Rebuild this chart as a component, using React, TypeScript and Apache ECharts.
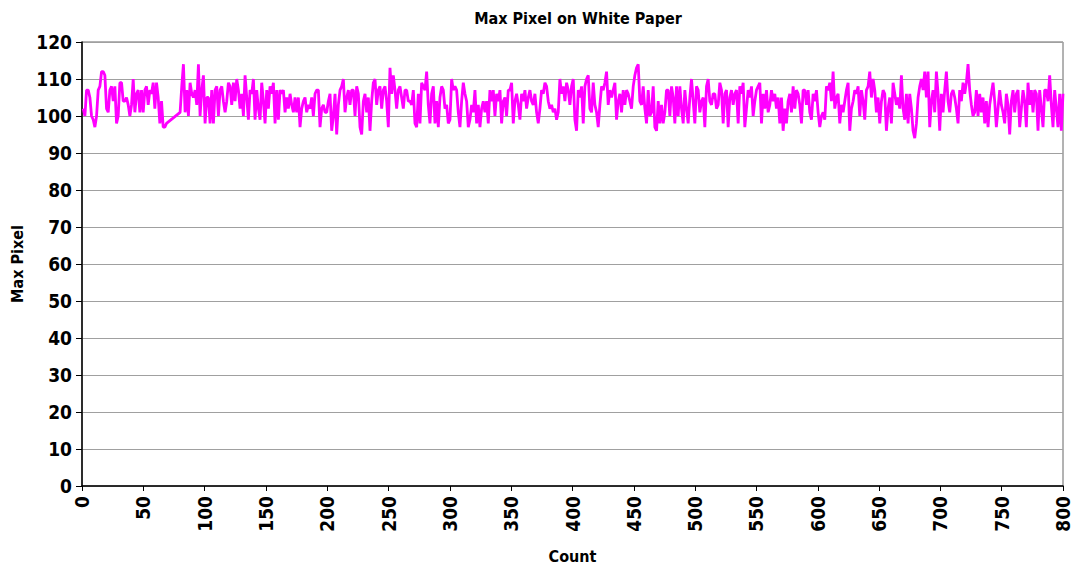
import React, { useEffect, useRef } from "react";
import * as echarts from "echarts";

// First run of readings (Count 1 .. ~70)
const segmentA: number[] = [
  102, 100, 107, 107, 105, 100, 99, 97, 100, 107,
  108, 112, 112, 111, 102, 101, 107, 108, 104, 108,
  98, 100, 109, 109, 104, 104, 105, 103, 100, 103,
  110, 101, 106, 107, 101, 107, 101, 107, 108, 103,
  107, 106, 109, 102, 109, 105, 98, 104, 97, 97,
  98,
];

// Second run of readings (Count 80 .. 800)
const segmentB: number[] = [
  101, 108, 114, 101, 107, 100, 109, 106, 105, 107,
  103, 114, 100, 107, 111, 98, 105, 105, 98, 107,
  98, 107, 108, 100, 107, 108, 104, 101, 104, 109,
  108, 103, 109, 104, 110, 107, 102, 106, 100, 111,
  105, 99, 107, 106, 110, 99, 107, 102, 99, 109,
  104, 98, 107, 102, 108, 106, 109, 98, 107, 99,
  107, 106, 107, 101, 105, 102, 106, 103, 101, 105,
  101, 105, 97, 102, 104, 105, 101, 103, 102, 105,
  100, 106, 107, 107, 97, 102, 103, 101, 101, 104,
  106, 96, 100, 106, 95, 103, 107, 108, 110, 101,
  105, 107, 103, 107, 107, 100, 108, 106, 97, 95,
  104, 106, 101, 105, 96, 104, 109, 110, 103, 107,
  108, 102, 107, 108, 104, 97, 113, 106, 111, 107,
  102, 107, 108, 105, 102, 107, 107, 104,
  104, 103, 107, 98, 97, 106, 98, 109, 108, 107,
  112, 103, 98, 106, 108, 98, 104, 97, 105, 108,
  107, 102, 103, 98, 99, 110, 107, 108, 107, 101,
  97, 104, 109, 106, 104, 97, 99, 103, 101, 107,
  98, 103, 97, 102, 104, 101, 104, 98, 107, 104,
  107, 100, 106, 104, 107, 98, 104, 105, 100, 107,
  107, 109, 98, 104, 106, 103, 99, 106, 104, 107,
  102, 105, 107, 104, 103, 106, 101, 98, 102, 107,
  106, 109, 108, 104, 102, 103, 101, 102, 99, 101,
  110, 106, 108, 104, 109, 107, 103, 108, 110, 99,
  96, 107, 105, 108, 98, 108, 110, 111, 102, 101,
  109, 103, 101, 97, 103, 108, 107, 109, 112, 103,
  107, 105, 107, 109, 99, 104, 106, 101, 107, 103,
  107, 106, 104, 102, 108, 111, 113, 114, 104, 103,
  108, 102, 98, 107, 100, 101, 108, 97, 96, 104,
  98, 103, 98, 101, 107, 107, 100, 108, 105, 98,
  108, 100, 108, 102, 98, 107, 102, 98, 105, 110,
  104, 98, 108, 107, 101, 104, 105, 97, 108, 110,
  104, 103, 106, 106, 102, 103, 109, 107, 98, 106,
  107, 97, 105, 107, 103,
  106, 107, 98, 108, 106, 109, 97, 102, 107, 105,
  108, 100, 104, 107, 108, 109, 98, 106, 102, 107,
  101, 103, 107, 104, 106, 102, 105, 98, 105, 96,
  102, 98, 104, 106, 101, 108, 102, 107, 106, 103,
  98, 107, 107, 103, 107, 101, 99, 106, 104, 107,
  101, 97, 100, 101, 99, 108, 107, 109, 104, 112,
  102, 105, 106, 98, 103, 101, 104, 107, 109, 96,
  102, 104, 107, 106, 108, 100, 107, 104, 99, 107,
  108, 112, 105, 110, 107, 101, 105, 98, 104, 107,
  106, 96, 102, 105, 98, 109, 106, 103, 105, 102,
  111, 102, 99, 106, 98, 106, 102, 96, 94, 98,
  105, 108, 110, 107, 112, 105, 112, 97, 104, 107,
  101, 112, 106, 96, 106, 101, 107, 112, 104, 101,
  106, 107, 105, 102, 98, 107, 104, 109, 106, 109,
  114, 107, 103, 100, 101, 107, 100, 106, 101, 105,
  98, 104, 97, 103, 106, 109, 104, 97, 102, 107,
  103, 101, 98, 106, 103, 95, 104, 107, 101, 106,
  107, 97, 102, 107, 104, 97, 109, 103, 107, 101,
  107, 106, 96, 107, 102, 97, 107, 107, 104, 111,
  103, 97, 107, 102, 97, 106, 96, 106,
];

// Count ranges covered by the two runs
const countStartA = 1;
const countStartB = 80;
const countEnd = 800;

const titleText = "Max Pixel on White Paper";
const xName = "Count";
const yName = "Max Pixel";

function buildPoints(): [number, number][] {
  const pts: [number, number][] = [];
  const stepB = (countEnd - countStartB) / (segmentB.length - 1);
  const stepA = stepB;
  segmentA.forEach((v, i) => pts.push([countStartA + i * stepA, v]));
  segmentB.forEach((v, i) => pts.push([countStartB + i * stepB, v]));
  return pts;
}

const FONT = "'DejaVu Sans Condensed', 'Liberation Sans Narrow', sans-serif";

export default function App() {
  const ref = useRef<HTMLDivElement>(null);
  useEffect(() => {
    if (!ref.current) return;
    const chart = echarts.init(ref.current, undefined, { renderer: "svg" });
    chart.setOption({
      animation: false,
      backgroundColor: "#ffffff",
      title: {
        text: titleText,
        left: 573,
        top: 5,
        textAlign: "center",
        textStyle: { fontFamily: FONT, fontWeight: "bold", fontSize: 16, color: "#000" },
      },
      grid: {
        left: 82,
        right: 12,
        top: 42,
        bottom: 83,
        show: true,
        borderColor: "#666",
        borderWidth: 1,
        backgroundColor: "transparent",
      },
      xAxis: {
        type: "value",
        min: 0,
        max: 800,
        interval: 50,
        name: xName,
        nameLocation: "middle",
        nameGap: 62,
        nameTextStyle: { fontFamily: FONT, fontWeight: "bold", fontSize: 16, color: "#000" },
        axisLine: { show: true, onZero: false, lineStyle: { color: "#000", width: 1.5 } },
        axisTick: { show: true, length: 5, lineStyle: { color: "#000" } },
        splitLine: { show: false },
        axisLabel: {
          rotate: 90,
          margin: 10,
          fontFamily: FONT,
          fontWeight: "bold",
          fontSize: 19,
          color: "#000",
        },
      },
      yAxis: {
        type: "value",
        min: 0,
        max: 120,
        interval: 10,
        name: yName,
        nameLocation: "middle",
        nameGap: 56,
        nameRotate: 90,
        nameTextStyle: { fontFamily: FONT, fontWeight: "bold", fontSize: 16, color: "#000" },
        axisLine: { show: true, lineStyle: { color: "#000", width: 1.5 } },
        axisTick: { show: true, length: 6, lineStyle: { color: "#000" } },
        splitLine: { show: true, lineStyle: { color: "#a0a0a0", width: 1 } },
        axisLabel: {
          margin: 10,
          fontFamily: FONT,
          fontWeight: "bold",
          fontSize: 19,
          color: "#000",
        },
      },
      series: [
        {
          type: "line",
          data: buildPoints(),
          showSymbol: false,
          lineStyle: { color: "#ff00ff", width: 2.8 },
          itemStyle: { color: "#ff00ff" },
        },
      ],
    });
    return () => chart.dispose();
  }, []);
  return <div ref={ref} style={{ width: 1075, height: 569, position: "absolute", left: 0, top: 0 }} />;
}
